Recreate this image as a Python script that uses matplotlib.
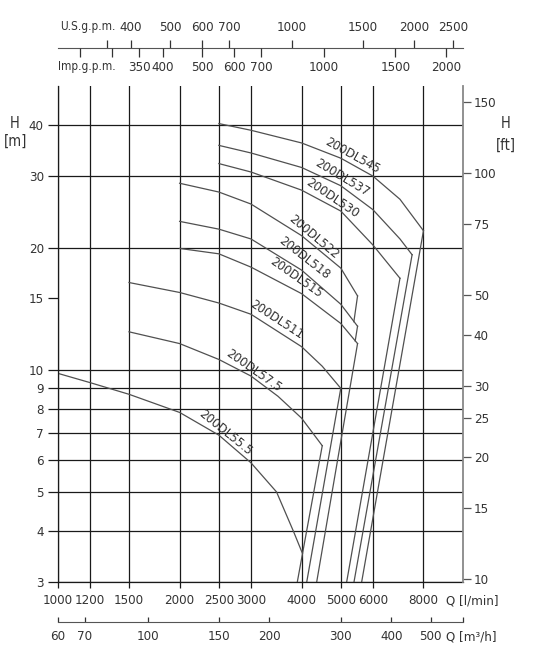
import numpy as np
import matplotlib
matplotlib.use('Agg')
import matplotlib.pyplot as plt
from matplotlib import font_manager
from matplotlib.ticker import FixedLocator, FixedFormatter, NullLocator

# the chart uses a narrow lettering; take a narrow face if one is installed
narrow = None
for want in ['Liberation Sans Narrow', 'DejaVu Sans', 'Noto Sans', 'Roboto', 'Open Sans']:
    for f in font_manager.fontManager.ttflist:
        if f.name.startswith(want) and f.style == 'normal' and f.weight in (400, 'normal') \
                and (f.stretch not in ('normal', 500) or 'Narrow' in f.name or 'Condensed' in f.name):
            narrow = f
            break
    if narrow:
        break
if narrow:
    plt.rcParams['font.family'] = [narrow.name, 'DejaVu Sans']
    plt.rcParams['font.stretch'] = narrow.stretch
    FS = 9.5
else:
    plt.rcParams['font.family'] = ['DejaVu Sans']
    FS = 7.5

# pump curves, Q in l/min, H in m
q_545 = [2500, 3000, 4000, 5000, 6000, 7000, 8000]
h_545 = [40.4, 38.9, 36.2, 33.2, 30.0, 26.3, 22.0]
q_537 = [2500, 3000, 4000, 5000, 6000, 7000, 7500]
h_537 = [35.7, 34.2, 31.5, 28.4, 24.8, 21.0, 19.2]
q_530 = [2500, 3000, 4000, 5000, 6000, 7000]
h_530 = [32.2, 30.7, 27.7, 24.6, 20.3, 16.8]
q_522 = [2000, 2500, 3000, 4000, 5000, 5500]
h_522 = [28.8, 27.4, 25.6, 21.4, 17.8, 15.2]
q_518 = [2000, 2500, 3000, 4000, 5000, 5500]
h_518 = [23.2, 22.2, 21.0, 17.6, 14.5, 12.8]
q_515 = [2000, 2500, 3000, 4000, 5000, 5500]
h_515 = [19.9, 19.3, 17.9, 15.4, 13.0, 11.6]
q_511 = [1500, 2000, 2500, 3000, 4000, 4500, 5000]
h_511 = [16.4, 15.5, 14.6, 13.7, 11.4, 10.2, 9.0]
q_575 = [1500, 2000, 2500, 3000, 3500, 4000, 4500]
h_575 = [12.4, 11.6, 10.6, 9.65, 8.6, 7.6, 6.5]
q_555 = [1000, 1200, 1500, 2000, 2500, 3000, 3470, 3820, 4020]
h_555 = [9.8, 9.3, 8.7, 7.85, 6.9, 5.9, 5.0, 4.0, 3.53]

models = ['200DL545', '200DL537', '200DL530', '200DL522', '200DL518',
          '200DL515', '200DL511', '200DL57.5', '200DL55.5']
curves_q = [q_545, q_537, q_530, q_522, q_518, q_515, q_511, q_575, q_555]
curves_h = [h_545, h_537, h_530, h_522, h_518, h_515, h_511, h_575, h_555]

# flow where the end line of each curve reaches 3 m
q_cut = [5630, 5390, 5170, 4360, 4360, 4360, 4120, 3905, None]
# these end lines stop on the next curve below
stop_on_next = [False, False, False, True, True, False, False, False, False]

# curve labels
label_q = [5330, 5026, 4771, 4294, 4057, 3877, 3473, 3053, 2589]
label_h = [33.7, 29.7, 26.5, 21.2, 18.8, 16.9, 13.3, 9.93, 7.0]
label_rot = [-29, -31, -34, -40, -38, -35, -33, -35, -39]

# axes
q_ticks = [1000, 1200, 1500, 2000, 2500, 3000, 4000, 5000, 6000, 8000]
h_grid = [3, 4, 5, 6, 7, 8, 9, 10, 20, 30, 40]
h_extra = [15]
ft_ticks = [10, 15, 20, 25, 30, 40, 50, 75, 100, 150]
us_ticks = [350, 400, 500, 600, 700, 1000, 1500, 2000, 2500]
us_labels = ['', '400', '500', '600', '700', '1000', '1500', '2000', '2500']
imp_ticks = [250, 300, 350, 400, 500, 600, 700, 1000, 1500, 2000]
imp_labels = ['', '', '350', '400', '500', '600', '700', '1000', '1500', '2000']
m3h_ticks = [60, 70, 100, 150, 200, 300, 400, 500, 600]
m3h_labels = ['60', '70', '100', '150', '200', '300', '400', '500', '']

W, H = 539, 653
TXT = '#333333'


def rect(x0, y0, x1, y1):
    # pixel box (from top left) to figure fraction
    return [x0 / W, 1 - y1 / H, (x1 - x0) / W, (y1 - y0) / H]


def bare(ax):
    for s in ax.spines.values():
        s.set_visible(False)
    ax.patch.set_visible(False)
    ax.set_yticks([])


fig = plt.figure(figsize=(W / 100, H / 100), dpi=100)

ax = fig.add_axes(rect(57.7, 86, 462.7, 582))
ax.set_xscale('log')
ax.set_yscale('log')
ax.set_xlim(1000, 10000)
ax.set_ylim(3, 50)

ax.xaxis.set_major_locator(FixedLocator(q_ticks))
ax.xaxis.set_major_formatter(FixedFormatter([str(v) for v in q_ticks]))
ax.xaxis.set_minor_locator(NullLocator())
ax.yaxis.set_major_locator(FixedLocator(h_grid))
ax.yaxis.set_major_formatter(FixedFormatter([str(v) for v in h_grid]))
ax.yaxis.set_minor_locator(FixedLocator(h_extra))
ax.yaxis.set_minor_formatter(FixedFormatter([str(v) for v in h_extra]))
ax.grid(True, which='major', color='#1a1a1a', lw=0.9)
ax.tick_params(axis='x', which='major', length=4, width=0.9, pad=5,
               labelsize=FS, labelcolor=TXT, color='#1a1a1a')
ax.tick_params(axis='y', which='both', length=7, width=0.9, pad=3,
               labelsize=FS, labelcolor=TXT, color='#1a1a1a')
for s in ['top', 'right']:
    ax.spines[s].set_visible(False)
ax.spines['left'].set_color('#1a1a1a')
ax.spines['bottom'].set_color('#1a1a1a')
ax.spines['left'].set_linewidth(0.9)
ax.spines['bottom'].set_linewidth(0.9)

# pump curves and their end lines
for i, name in enumerate(models):
    q = curves_q[i]
    h = curves_h[i]
    ax.plot(q, h, color='#505050', lw=0.9, solid_joinstyle='round')
    if q_cut[i] is None:
        continue
    t = np.linspace(0, 1, 400)
    lq = np.log10(q[-1]) + t * (np.log10(q_cut[i]) - np.log10(q[-1]))
    lh = np.log10(h[-1]) + t * (np.log10(3) - np.log10(h[-1]))
    if stop_on_next[i]:
        nq = np.log10(curves_q[i + 1])
        nh = np.log10(curves_h[i + 1])
        below = lh <= np.interp(lq, nq, nh)
        k = np.argmax(below) + 1 if below.any() else len(t)
        lq, lh = lq[:k], lh[:k]
    ax.plot(10 ** lq, 10 ** lh, color='#505050', lw=0.9)

for name, lx, ly, rot in zip(models, label_q, label_h, label_rot):
    ax.text(lx, ly, name, rotation=rot, rotation_mode='anchor',
            ha='center', va='center', fontsize=FS, color=TXT)

# head in feet on the right
ax2 = ax.twinx()
ax2.set_yscale('log')
ax2.set_ylim(3 * 3.28084, 50 * 3.28084)
ax2.yaxis.set_major_locator(FixedLocator(ft_ticks))
ax2.yaxis.set_major_formatter(FixedFormatter([str(v) for v in ft_ticks]))
ax2.yaxis.set_minor_locator(NullLocator())
ax2.tick_params(axis='y', length=6, width=0.9, pad=2, labelsize=FS,
                labelcolor=TXT, color='#555555')
for s in ['top', 'left', 'bottom']:
    ax2.spines[s].set_visible(False)
ax2.spines['right'].set_color('#888888')
ax2.spines['right'].set_linewidth(1.3)

# U.S. g.p.m. scale (above the line)
ax_us = fig.add_axes(rect(57.7, 47.7, 462.7, 48.7))
bare(ax_us)
ax_us.set_xscale('log')
ax_us.set_xlim(1000 / 3.785, 10000 / 3.785)
ax_us.spines['top'].set_visible(True)
ax_us.spines['top'].set_color('#555555')
ax_us.xaxis.tick_top()
ax_us.xaxis.set_major_locator(FixedLocator(us_ticks))
ax_us.xaxis.set_major_formatter(FixedFormatter(us_labels))
ax_us.xaxis.set_minor_locator(NullLocator())
ax_us.tick_params(axis='x', length=6, width=0.9, pad=4, labelsize=FS,
                  labelcolor=TXT, color='#333333')

# Imp. g.p.m. scale (below the line)
ax_imp = fig.add_axes(rect(57.7, 46.7, 462.7, 47.7))
bare(ax_imp)
ax_imp.set_xscale('log')
ax_imp.set_xlim(1000 / 4.546, 10000 / 4.546)
ax_imp.xaxis.set_major_locator(FixedLocator(imp_ticks))
ax_imp.xaxis.set_major_formatter(FixedFormatter(imp_labels))
ax_imp.xaxis.set_minor_locator(NullLocator())
ax_imp.tick_params(axis='x', length=6.5, width=0.9, pad=3, labelsize=FS,
                   labelcolor=TXT, color='#333333')

# m3/h scale at the bottom
ax_m3 = fig.add_axes(rect(57.7, 621, 462.7, 622))
bare(ax_m3)
ax_m3.set_xscale('log')
ax_m3.set_xlim(60, 600)
ax_m3.spines['bottom'].set_visible(True)
ax_m3.spines['bottom'].set_color('#555555')
ax_m3.xaxis.set_major_locator(FixedLocator(m3h_ticks))
ax_m3.xaxis.set_major_formatter(FixedFormatter(m3h_labels))
ax_m3.xaxis.set_minor_locator(NullLocator())
ax_m3.tick_params(axis='x', direction='in', length=3.5, width=0.9, pad=6,
                  labelsize=FS, labelcolor=TXT, color='#333333')


# axis titles
def ftext(x, y, s, ha='left', size=FS):
    fig.text(x / W, 1 - y / H, s, ha=ha, va='center', fontsize=size, color=TXT)


ftext(60, 26.6, 'U.S.g.p.m.', size=FS - 1)
ftext(58, 66.7, 'Imp.g.p.m.', size=FS - 1)
ftext(15, 123, 'H', ha='center', size=FS + 1)
ftext(16, 141, '[m]', ha='center', size=FS + 1)
ftext(506, 123, 'H', ha='center', size=FS + 1)
ftext(506, 145, '[ft]', ha='center', size=FS + 1)
ftext(446, 601, 'Q [l/min]')
ftext(446, 637, 'Q [m³/h]')

fig.savefig('out.png', dpi=100, facecolor='white')
